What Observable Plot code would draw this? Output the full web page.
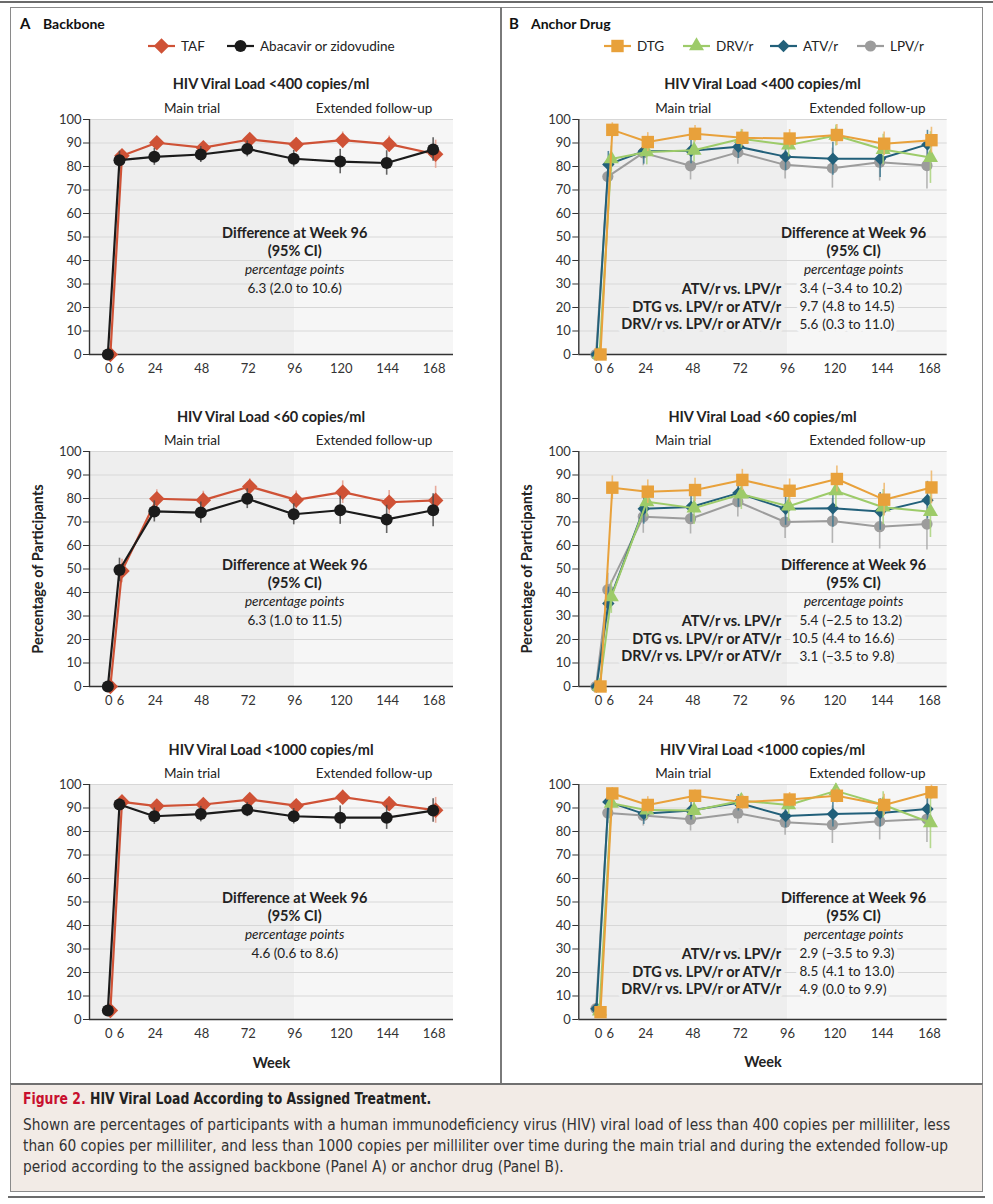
<!DOCTYPE html>
<html><head><meta charset="utf-8">
<script src="https://cdn.jsdelivr.net/npm/d3@7"></script>
<script src="https://cdn.jsdelivr.net/npm/@observablehq/plot@0.6"></script>
<style>
body{margin:0;background:#fff;}
#root{position:relative;width:993px;height:1204px;overflow:hidden;font-family:Lato,"Open Sans",sans-serif;color:#222;}
.abs{position:absolute;}
.ctitle{position:absolute;font-weight:700;font-size:14.5px;transform:translate(-50%,-50%);white-space:nowrap;color:#222;}
.plab{position:absolute;font-weight:700;white-space:nowrap;transform:translateY(-50%);color:#111;}
.chart{position:absolute;}
.chart svg{overflow:visible;}
g[aria-label="y-axis label"] text, g[aria-label="x-axis label"] text{font-weight:700;font-size:14.5px;fill:#222;}
.cap{position:absolute;left:23px;font-family:"Liberation Sans Narrow","DejaVu Sans Condensed",sans-serif;font-stretch:condensed;color:#333;white-space:nowrap;transform-origin:0 0;}
</style></head><body><div id="root"></div>
<script>
// ---------- data ----------
const weeks = [0, 6, 24, 48, 72, 96, 120, 144, 168];
const xTicks = [0, 6, 24, 48, 72, 96, 120, 144, 168];
const yTicks = [0, 10, 20, 30, 40, 50, 60, 70, 80, 90, 100];
const gridTicks = [10, 20, 30, 40, 50, 60, 70, 80, 90, 100];
const phaseNames = ["Main trial", "Extended follow-up"];
const phaseBoundary = 96;

const chartTitles = ["HIV Viral Load <400 copies/ml", "HIV Viral Load <60 copies/ml", "HIV Viral Load <1000 copies/ml"];

// Panel A: backbone
const A400_TAF    = [0, 84.6, 90.1, 88.0, 91.5, 89.4, 91.2, 89.5, 85.2];
const A400_TAF_ci = [0, 2.5, 2.5, 2.5, 2.3, 2.8, 3.5, 3.5, 6.0];
const A400_ABC    = [0, 82.7, 84.1, 85.1, 87.5, 83.3, 82.1, 81.5, 87.2];
const A400_ABC_ci = [0, 3.8, 3.6, 3.4, 3.4, 3.5, 5.2, 5.2, 5.0];

const A60_TAF     = [0, 49.2, 79.9, 79.3, 85.1, 79.4, 82.7, 78.4, 79.2];
const A60_TAF_ci  = [0, 5.0, 3.8, 3.8, 3.3, 3.8, 4.8, 5.0, 6.0];
const A60_ABC     = [0, 49.6, 74.5, 74.0, 79.9, 73.3, 75.0, 71.1, 75.0];
const A60_ABC_ci  = [0, 5.0, 4.5, 4.5, 4.2, 4.5, 6.0, 6.0, 7.0];

const A1000_TAF    = [3.8, 92.6, 90.8, 91.5, 93.6, 91.0, 94.6, 91.8, 89.0];
const A1000_TAF_ci = [1.5, 2.0, 2.0, 2.0, 2.0, 2.3, 3.0, 3.0, 5.5];
const A1000_ABC    = [3.8, 91.5, 86.5, 87.4, 89.3, 86.5, 85.9, 85.9, 88.9];
const A1000_ABC_ci = [1.5, 2.5, 3.5, 3.3, 3.0, 3.3, 5.0, 5.0, 5.0];

// Panel B: anchor drug
const B400_DTG    = [0, 95.6, 90.4, 93.9, 92.2, 91.9, 93.4, 89.7, 91.2];
const B400_DTG_ci = [0, 3.0, 4.0, 3.5, 3.5, 3.8, 4.5, 5.0, 5.5];
const B400_DRV    = [0, 83.2, 86.2, 86.9, 91.8, 89.1, 93.2, 87.2, 83.8];
const B400_DRV_ci = [0, 5.5, 5.5, 5.0, 4.0, 5.0, 4.5, 6.5, 11.0];
const B400_ATV    = [0, 80.9, 86.5, 86.7, 88.4, 84.2, 83.3, 83.3, 89.4];
const B400_ATV_ci = [0, 5.5, 5.5, 5.5, 5.0, 6.0, 7.0, 8.0, 6.0];
const B400_LPV    = [0, 75.7, 85.8, 80.3, 86.0, 80.7, 79.3, 81.8, 80.4];
const B400_LPV_ci = [0, 6.0, 5.5, 6.0, 5.0, 6.0, 8.5, 8.0, 10.0];

const B60_DTG     = [0, 84.6, 82.9, 83.6, 87.9, 83.3, 88.3, 79.5, 84.7];
const B60_DTG_ci  = [0, 5.0, 5.0, 5.0, 4.5, 5.0, 5.5, 7.0, 7.0];
const B60_DRV     = [0, 38.1, 78.6, 75.9, 81.8, 76.7, 83.2, 76.3, 74.4];
const B60_DRV_ci  = [0, 7.0, 6.5, 7.0, 6.5, 6.5, 7.0, 7.5, 11.0];
const B60_ATV     = [0, 35.3, 75.6, 76.4, 82.3, 75.6, 75.8, 74.5, 79.3];
const B60_ATV_ci  = [0, 7.0, 6.5, 6.5, 6.0, 7.0, 8.0, 8.0, 8.0];
const B60_LPV     = [0, 41.2, 72.2, 71.4, 78.6, 70.0, 70.4, 68.0, 69.1];
const B60_LPV_ci  = [0, 7.0, 7.0, 6.5, 6.5, 7.0, 9.5, 9.5, 11.0];

const B1000_DTG    = [3.1, 96.2, 91.3, 95.2, 92.5, 93.6, 95.2, 91.3, 96.7];
const B1000_DTG_ci = [1.5, 2.5, 3.5, 2.5, 3.0, 3.0, 3.0, 4.5, 3.0];
const B1000_DRV    = [3.5, 92.0, 89.1, 88.9, 93.1, 91.3, 97.3, 91.4, 83.7];
const B1000_DRV_ci = [1.5, 3.5, 4.0, 4.0, 3.0, 4.0, 3.0, 5.5, 11.0];
const B1000_ATV    = [4.6, 92.6, 87.5, 88.9, 92.2, 86.6, 87.4, 87.9, 89.6];
const B1000_ATV_ci = [2.0, 3.5, 4.5, 4.0, 3.5, 5.0, 5.5, 6.0, 7.0];
const B1000_LPV    = [4.6, 87.9, 86.8, 85.2, 87.8, 83.9, 82.9, 84.4, 85.3];
const B1000_LPV_ci = [2.0, 4.5, 4.5, 5.0, 4.5, 5.5, 8.0, 8.0, 10.0];

// Differences at week 96
const diffHeader = ["Difference at Week 96", "(95% CI)"];
const diffUnit = "percentage points";
const A_diff = ["6.3 (2.0 to 10.6)", "6.3 (1.0 to 11.5)", "4.6 (0.6 to 8.6)"];
const B_comparisons = ["ATV/r vs. LPV/r", "DTG vs. LPV/r or ATV/r", "DRV/r vs. LPV/r or ATV/r"];
const B400_est = ["3.4", "9.7", "5.6"];
const B400_ciTxt = ["(\u22123.4 to 10.2)", "(4.8 to 14.5)", "(0.3 to 11.0)"];
const B60_est = ["5.4", "10.5", "3.1"];
const B60_ciTxt = ["(\u22122.5 to 13.2)", "(4.4 to 16.6)", "(\u22123.5 to 9.8)"];
const B1000_est = ["2.9", "8.5", "4.9"];
const B1000_ciTxt = ["(\u22123.5 to 9.3)", "(4.1 to 13.0)", "(0.0 to 9.9)"];

// ---------- styles ----------
const bgMain = "#eeeeee", bgExt = "#f6f6f6";
const seriesA = [
  {name: "TAF", color: "#cf5236", err: "#e59b89", symbol: "diamond2", r: 7, dx: 1.5, lw: 2.2},
  {name: "Abacavir or zidovudine", color: "#1b1b1b", err: "#4a4a4a", symbol: "circle", r: 6, dx: -1, lw: 2.2}
];
const seriesB = [
  {name: "LPV/r", color: "#9c9c9c", err: "#a8a8a8", symbol: "circle", r: 5.6, dx: -2.5, lw: 2},
  {name: "ATV/r", color: "#22607a", err: "#3d7891", symbol: "diamond2", r: 5.6, dx: -2, lw: 2},
  {name: "DRV/r", color: "#9dcb69", err: "#a9d27b", symbol: "triangle", r: 5.6, dx: 1, lw: 2},
  {name: "DTG", color: "#e8a13b", err: "#eeb565", symbol: "square", r: 7, dx: 2, lw: 2}
];

const root = document.getElementById("root");
function div(cls, styles, html) {
  const d = document.createElement("div");
  if (cls) d.className = cls;
  Object.assign(d.style, styles);
  if (html != null) d.innerHTML = html;
  root.appendChild(d);
  return d;
}

// ---------- frame ----------
div("abs", {left: "0px", top: "1px", width: "993px", height: "2px", background: "#6b6b6b"});
div("abs", {left: "10px", top: "7px", width: "973px", height: "1077px", boxSizing: "border-box", border: "1px solid #8a8a8a", borderBottom: "none"});
div("abs", {left: "500px", top: "7px", width: "2px", height: "1077px", background: "#7a7a7a"});
div("abs", {left: "10px", top: "1083px", width: "973px", height: "109px", boxSizing: "border-box", background: "#f2ebe6", borderTop: "2px solid #707070", borderLeft: "1px solid #8a8a8a", borderRight: "1px solid #8a8a8a", borderBottom: "1px solid #8a8a8a"});
div("abs", {left: "8px", top: "1196px", width: "977px", height: "2px", background: "#6b6b6b"});

// panel labels
div("plab", {left: "20px", top: "23px", fontSize: "15px"}, "A");
div("plab", {left: "43px", top: "23px", fontSize: "14px"}, "Backbone");
div("plab", {left: "509px", top: "23px", fontSize: "15px"}, "B");
div("plab", {left: "531px", top: "23px", fontSize: "14px"}, "Anchor Drug");

// ---------- legends ----------
function legend(items, starts, cy) {
  const svg = d3.select(root).append("svg").attr("class", "abs")
    .style("left", "0px").style("top", (cy - 12) + "px").attr("width", 993).attr("height", 24);
  items.forEach((s, i) => {
    const x0 = starts[i], x1 = x0 + 27;
    const g = svg.append("g");
    g.append("line").attr("x1", x0).attr("x2", x1).attr("y1", 12).attr("y2", 12)
      .attr("stroke", s.color).attr("stroke-width", 2.2);
    const sym = {circle: d3.symbolCircle, diamond2: d3.symbolDiamond2, square: d3.symbolSquare, triangle: d3.symbolTriangle}[s.symbol];
    g.append("path").attr("d", d3.symbol(sym, Math.PI * s.r * s.r)())
      .attr("transform", `translate(${(x0 + x1) / 2},12)`).attr("fill", s.color);
    g.append("text").attr("x", x1 + 6).attr("y", 12).attr("dy", "0.35em")
      .attr("font-size", 13.5).attr("fill", "#222").attr("font-family", "Lato, 'Open Sans', sans-serif").text(s.name);
  });
}
legend(seriesA, [148, 227], 46);
const legendB = ["DTG", "DRV/r", "ATV/r", "LPV/r"].map(n => seriesB.find(s => s.name === n));
legend(legendB, [604, 683, 770, 857], 46);

// ---------- charts ----------
const ann = {head1: 51.7, head2: 44, unit: 36.3, row: [27.8, 20.2, 12.9]};

function makeChart(cfg) {
  const {series, values, cis, domainX, left, marginLeft, width, y100, title, titleX, annot, yLabel, xLabel} = cfg;
  const marginTop = 30, inner = 235, marginBottom = 50;
  const phases = [
    {name: phaseNames[0], x1: domainX[0], x2: phaseBoundary, fill: bgMain},
    {name: phaseNames[1], x1: phaseBoundary, x2: domainX[1], fill: bgExt}
  ];
  const marks = [
    Plot.rect(phases, {x1: "x1", x2: "x2", y1: 0, y2: 100, fill: "fill"}),
    Plot.ruleY(gridTicks, {stroke: "#d7d7d7", strokeWidth: 1.2}),
    Plot.text(phases, {x: d => (d.x1 + d.x2) / 2, y: 100, dy: -11, text: "name", fontSize: 13.5, fill: "#222"}),
    Plot.axisY({ticks: yTicks, tickSize: 6, tickPadding: 2, fontSize: 13, color: "#333",
      label: yLabel ? "Percentage of Participants" : null, labelAnchor: "center", labelArrow: "none", labelOffset: 57}),
    Plot.axisX({ticks: xTicks, tickSize: 0, tickPadding: 9, fontSize: 13, color: "#333",
      label: xLabel ? "Week" : null, labelAnchor: "center", labelArrow: "none", labelOffset: 48}),
    Plot.ruleX([domainX[0]], {y1: 0, y2: 100, stroke: "#333", strokeWidth: 1.4}),
    Plot.ruleY([0], {stroke: "#333", strokeWidth: 1.4})
  ];
  // annotation
  marks.push(...annot(cfg));
  series.forEach((s, k) => {
    const rows = weeks.map((w, i) => ({week: w, value: values[k][i], ci: cis[k][i]}));
    marks.push(
      Plot.ruleX(rows, {x: "week", y1: d => d.value - d.ci, y2: d => d.value + d.ci, stroke: s.err, strokeWidth: 1.6, strokeOpacity: 0.85, dx: s.dx}),
      Plot.line(rows, {x: "week", y: "value", stroke: s.color, strokeWidth: s.lw, dx: s.dx}),
      Plot.dot(rows, {x: "week", y: "value", symbol: s.symbol, r: s.r, fill: s.color, stroke: "none", dx: s.dx})
    );
  });
  const svg = Plot.plot({
    width, height: marginTop + inner + marginBottom, marginTop, marginBottom, marginLeft, marginRight: 10,
    x: {domain: domainX}, y: {domain: [0, 100]},
    style: {fontFamily: "Lato, 'Open Sans', sans-serif", fontSize: "13px", background: "transparent", overflow: "visible", color: "#333"},
    marks
  });
  const holder = div("chart", {left: left + "px", top: (y100 - marginTop) + "px"});
  holder.appendChild(svg);
  div("ctitle", {left: titleX + "px", top: (y100 - 35.5) + "px"}, title.replace("<", "&lt;"));
}

function annotA(text) {
  return () => {
    const rows = [
      {t: diffHeader[0], y: ann.head1, w: 700, s: 14.5, it: "normal"},
      {t: diffHeader[1], y: ann.head2, w: 700, s: 14.5, it: "normal"},
      {t: diffUnit, y: ann.unit, w: 400, s: 13.5, it: "italic"},
      {t: text, y: ann.row[0], w: 400, s: 13.5, it: "normal"}
    ];
    return rows.map(r => Plot.text([r], {x: () => phaseBoundary, y: "y", text: "t", fontWeight: r.w, fontSize: r.s, fontStyle: r.it,
      fill: "#222", stroke: bgMain, strokeWidth: 0}));
  };
}

function annotB(est, ciTxt) {
  const cx = 129.5, labX = 92.7, estX = 111.6, ciX = 113.6;
  return () => {
    const m = [
      Plot.text([{t: diffHeader[0], y: ann.head1}, {t: diffHeader[1], y: ann.head2}], {x: () => cx, y: "y", text: "t", fontWeight: 700, fontSize: 14.5, fill: "#222"}),
      Plot.text([{t: diffUnit, y: ann.unit}], {x: () => cx, y: "y", text: "t", fontStyle: "italic", fontSize: 13.5, fill: "#222"})
    ];
    const rows = B_comparisons.map((c, i) => ({c, e: est[i], ci: ciTxt[i], y: ann.row[i]}));
    m.push(
      Plot.text(rows, {x: () => labX, y: "y", text: "c", textAnchor: "end", fontWeight: 700, fontSize: 14.5, fill: "#222", stroke: bgMain, strokeWidth: 8}),
      Plot.text(rows, {x: () => estX, y: "y", text: "e", textAnchor: "end", fontSize: 13.5, fill: "#222", stroke: bgExt, strokeWidth: 8}),
      Plot.text(rows, {x: () => ciX, y: "y", text: "ci", textAnchor: "start", fontSize: 13.5, fill: "#222", stroke: bgExt, strokeWidth: 8})
    );
    return m;
  };
}

const y100s = [118.5, 451.3, 784];
const Avals = [[A400_TAF, A400_ABC], [A60_TAF, A60_ABC], [A1000_TAF, A1000_ABC]];
const Acis = [[A400_TAF_ci, A400_ABC_ci], [A60_TAF_ci, A60_ABC_ci], [A1000_TAF_ci, A1000_ABC_ci]];
const Bvals = [[B400_LPV, B400_ATV, B400_DRV, B400_DTG], [B60_LPV, B60_ATV, B60_DRV, B60_DTG], [B1000_LPV, B1000_ATV, B1000_DRV, B1000_DTG]];
const Bcis = [[B400_LPV_ci, B400_ATV_ci, B400_DRV_ci, B400_DTG_ci], [B60_LPV_ci, B60_ATV_ci, B60_DRV_ci, B60_DTG_ci], [B1000_LPV_ci, B1000_ATV_ci, B1000_DRV_ci, B1000_DTG_ci]];
const Best = [B400_est, B60_est, B1000_est];
const BciTxt = [B400_ciTxt, B60_ciTxt, B1000_ciTxt];

for (let i = 0; i < 3; i++) {
  makeChart({series: seriesA, values: Avals[i], cis: Acis[i], domainX: [-10, 178], left: 0, marginLeft: 89, width: 463,
    y100: y100s[i], title: chartTitles[i], titleX: 271, annot: annotA(A_diff[i]), yLabel: i === 1, xLabel: i === 2});
  makeChart({series: seriesB, values: Bvals[i], cis: Bcis[i], domainX: [-10, 177], left: 500, marginLeft: 78.3, width: 456.7,
    y100: y100s[i], title: chartTitles[i], titleX: 762.5, annot: annotB(Best[i], BciTxt[i]), yLabel: i === 1, xLabel: i === 2});
}

// ---------- caption ----------
div("cap", {top: "1090px", fontSize: "15.5px", fontWeight: "700", color: "#222", transform: "scaleX(0.89)"},
  '<span style="color:#c8102e">Figure 2.</span> HIV Viral Load According to Assigned Treatment.');
const capLines = [
  "Shown are percentages of participants with a human immunodeficiency virus (HIV) viral load of less than 400 copies per milliliter, less",
  "than 60 copies per milliliter, and less than 1000 copies per milliliter over time during the main trial and during the extended follow-up",
  "period according to the assigned backbone (Panel A) or anchor drug (Panel B)."
];
capLines.forEach((t, i) => div("cap", {top: (1115 + i * 21) + "px", fontSize: "15.3px", lineHeight: "20px"}, t));
</script></body></html>
